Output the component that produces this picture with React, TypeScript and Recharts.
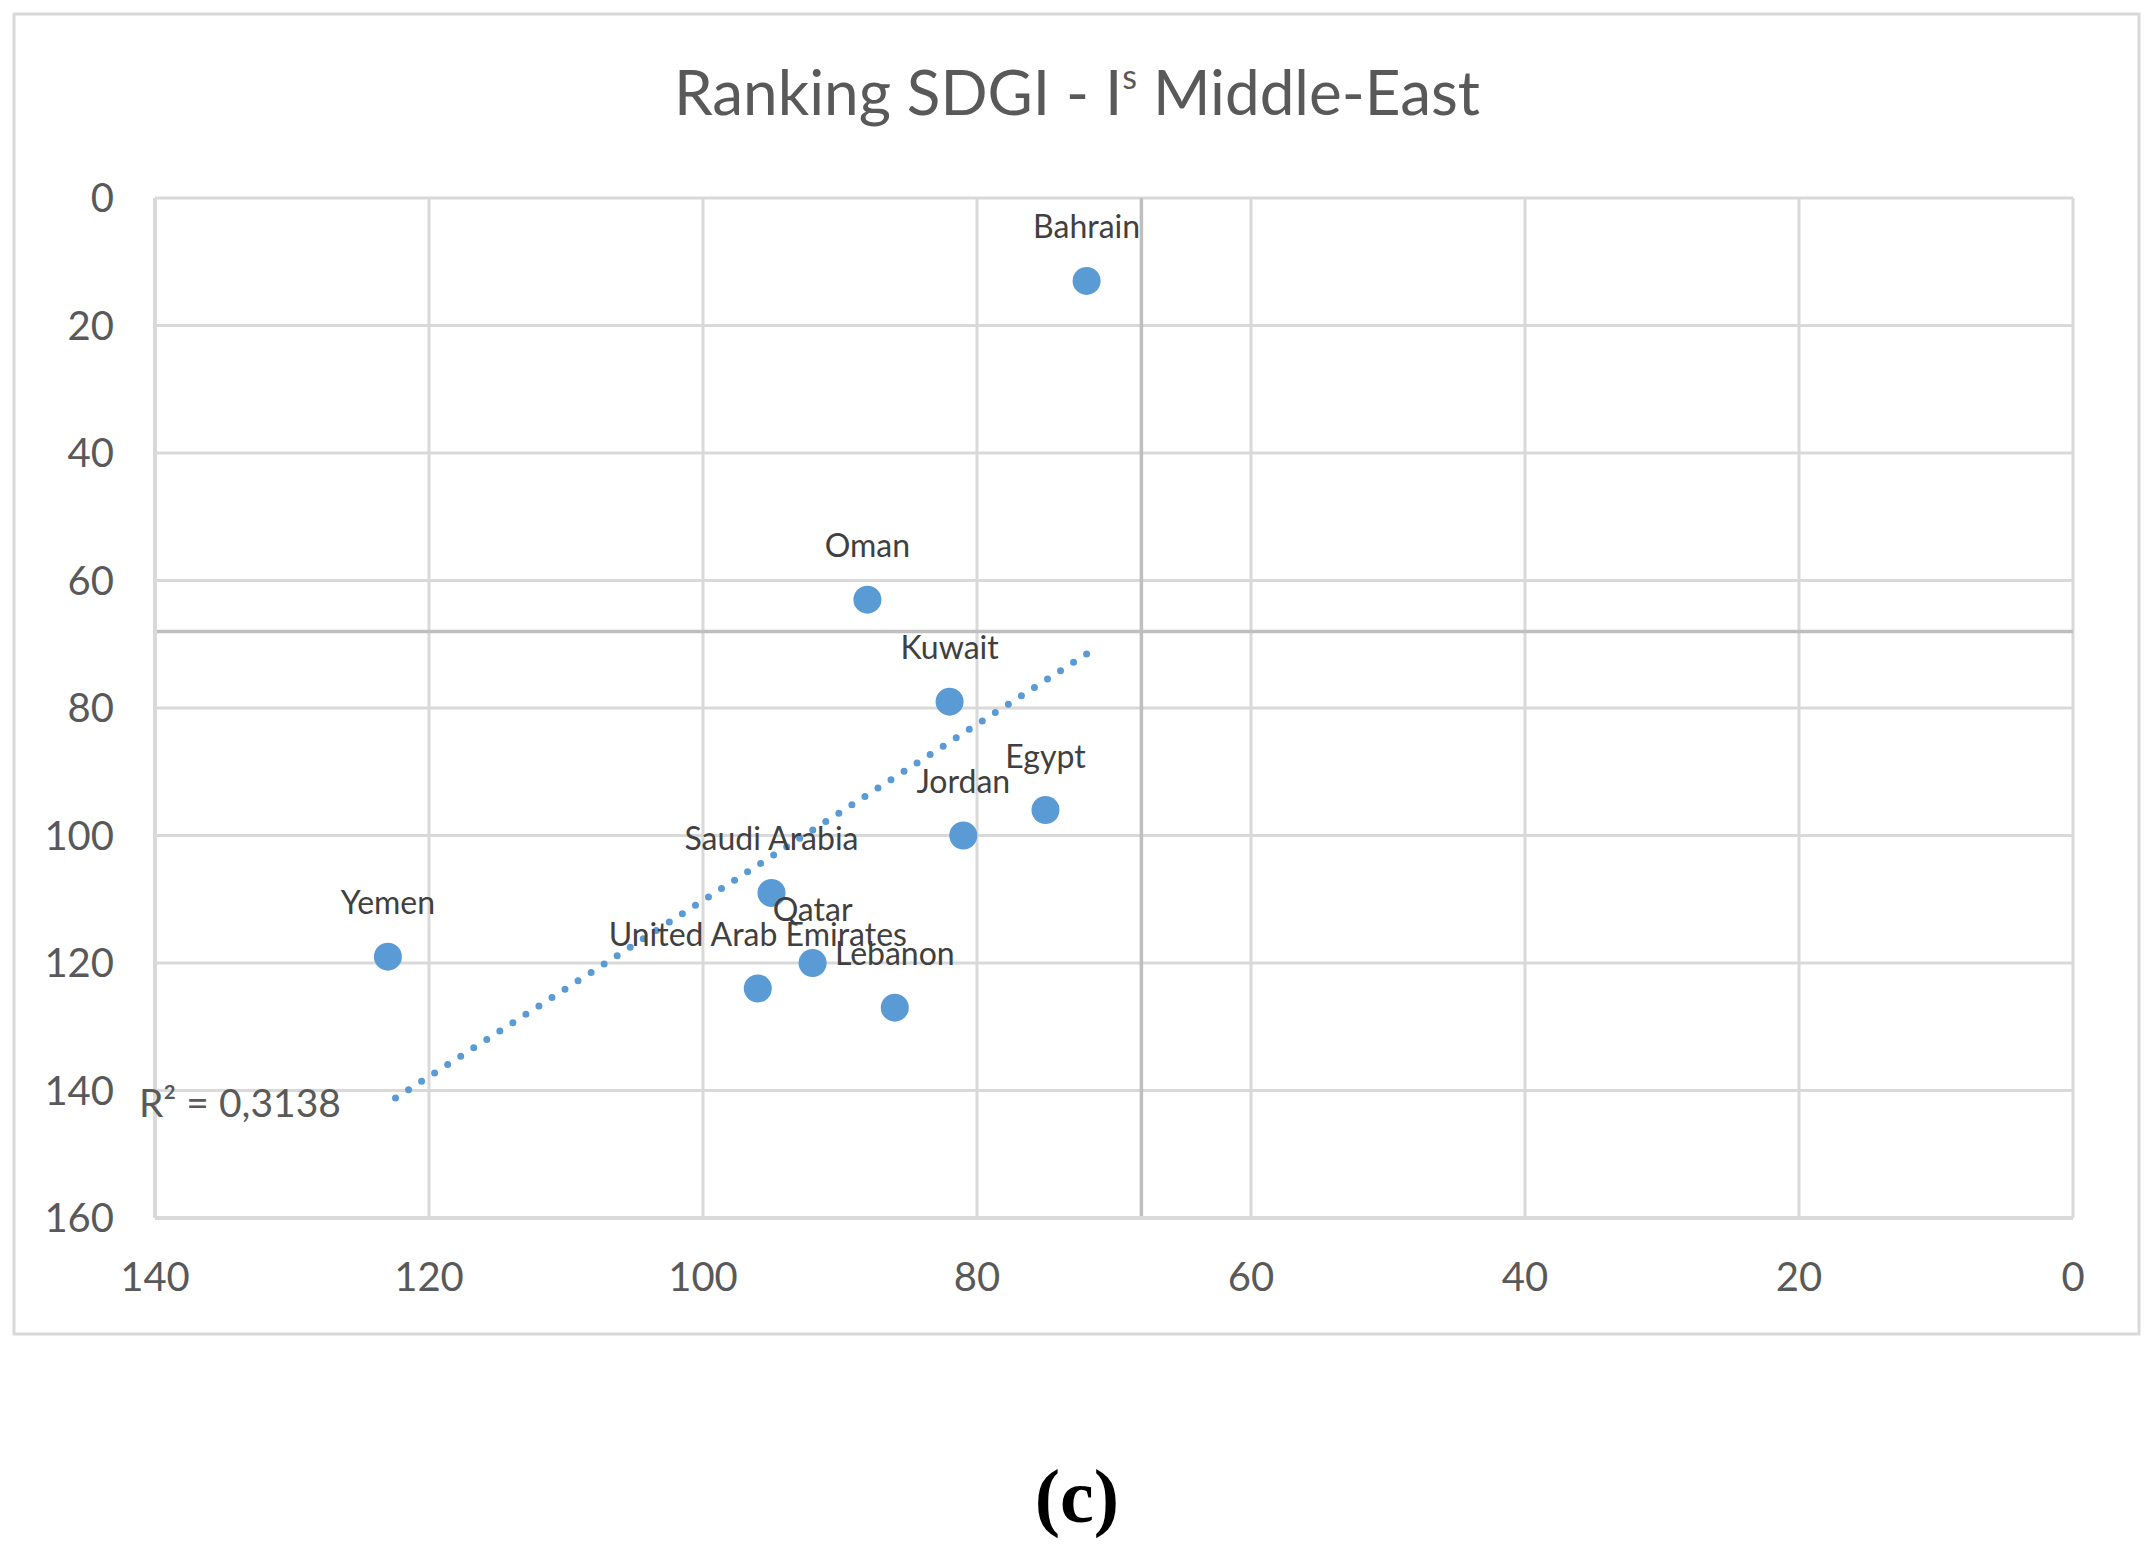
import { ScatterChart, Scatter, XAxis, YAxis, CartesianGrid, ReferenceLine, ReferenceDot } from "recharts";

// SDGI ranking (x) vs I^s ranking (y) for Middle-East countries
const countries = [
  "Bahrain",
  "Oman",
  "Kuwait",
  "Egypt",
  "Jordan",
  "Saudi Arabia",
  "Qatar",
  "United Arab Emirates",
  "Lebanon",
  "Yemen",
];
const rankX = [72, 88, 82, 75, 81, 95, 92, 96, 86, 123];
const rankY = [13, 63, 79, 96, 100, 109, 120, 124, 127, 119];

const xTicks = [0, 20, 40, 60, 80, 100, 120, 140];
const yTicks = [0, 20, 40, 60, 80, 100, 120, 140, 160];

// quadrant split lines
const splitX = 68;
const splitY = 68;

const data = countries.map((name, i) => ({ name, x: rankX[i], y: rankY[i] }));

// linear trend line (least squares) + R²
const n = rankX.length;
const meanX = rankX.reduce((a, b) => a + b, 0) / n;
const meanY = rankY.reduce((a, b) => a + b, 0) / n;
let sxy = 0;
let sxx = 0;
let syy = 0;
for (let i = 0; i < n; i++) {
  sxy += (rankX[i] - meanX) * (rankY[i] - meanY);
  sxx += (rankX[i] - meanX) ** 2;
  syy += (rankY[i] - meanY) ** 2;
}
const slope = sxy / sxx;
const intercept = meanY - slope * meanX;
const r2 = (sxy * sxy) / (sxx * syy);
const minX = Math.min(...rankX);
const maxX = Math.max(...rankX);
const trend = [
  { x: minX, y: intercept + slope * minX },
  { x: maxX, y: intercept + slope * maxX },
];
const r2Text = "R² = " + r2.toFixed(4).replace(".", ",");

const FONT = "Lato, 'Noto Sans', sans-serif";

const Marker = (props: any) => {
  const { cx, cy, payload } = props;
  return (
    <g>
      <text
        x={cx}
        y={cy - 55}
        textAnchor="middle"
        dominantBaseline="central"
        fontSize={32}
        fontFamily={FONT}
        fill="#404040"
      >
        {payload.name}
      </text>
      <circle cx={cx} cy={cy} r={14} fill="#5b9bd5" />
    </g>
  );
};

const App = () => {
  return (
    <div style={{ position: "absolute", left: 0, top: 0, width: 2155, height: 1553, background: "#fff" }}>
      <ScatterChart
        width={2155}
        height={1553}
        margin={{ top: 198, right: 82, bottom: 235, left: 15 }}
      >
        <CartesianGrid stroke="#d9d9d9" strokeWidth={3} />
        <XAxis
          type="number"
          dataKey="x"
          domain={[0, 140]}
          ticks={xTicks}
          reversed
          height={100}
          tickLine={false}
          tickSize={6}
          tickMargin={39}
          axisLine={{ stroke: "#d9d9d9", strokeWidth: 4 }}
          tick={{ fill: "#595959", fontSize: 40, fontFamily: FONT }}
        />
        <YAxis
          type="number"
          dataKey="y"
          domain={[0, 160]}
          ticks={yTicks}
          reversed
          width={140}
          tickLine={false}
          tickSize={6}
          tickMargin={35}
          axisLine={{ stroke: "#d9d9d9", strokeWidth: 4 }}
          tick={{ fill: "#595959", fontSize: 40, fontFamily: FONT }}
        />
        <ReferenceLine x={splitX} stroke="#bfbfbf" strokeWidth={3.5} />
        <ReferenceLine y={splitY} stroke="#bfbfbf" strokeWidth={3.5} />
        <Scatter data={data} isAnimationActive={false} shape={(p: any) => <Marker {...p} />} />
        <ReferenceLine
          segment={trend}
          stroke="#5b9bd5"
          strokeWidth={7}
          strokeDasharray="0 15.5"
          strokeLinecap="round"
        />
        <ReferenceDot
          x={trend[1].x}
          y={trend[1].y}
          r={0}
          fill="none"
          stroke="none"
          label={{
            value: r2Text,
            position: "left",
            offset: 47,
            fontSize: 39,
            fontFamily: FONT,
            fill: "#595959",
          }}
        />
      </ScatterChart>
      <svg
        width={2155}
        height={1553}
        style={{ position: "absolute", left: 0, top: 0, pointerEvents: "none" }}
      >
        <rect x={14} y={14} width={2125} height={1320} fill="none" stroke="#d9d9d9" strokeWidth={3} />
        <text x={1077} y={115} textAnchor="middle" fontSize={62} fontFamily={FONT} fill="#595959">
          Ranking SDGI - I
          <tspan fontSize={34} dy={-26}>s</tspan>
          <tspan dy={26}> Middle-East</tspan>
        </text>
        <text
          x={1077}
          y={1522}
          textAnchor="middle"
          fontSize={76}
          fontWeight="bold"
          fontFamily="'Liberation Serif', serif"
          fill="#000"
        >
          (c)
        </text>
      </svg>
    </div>
  );
};

export default App;
